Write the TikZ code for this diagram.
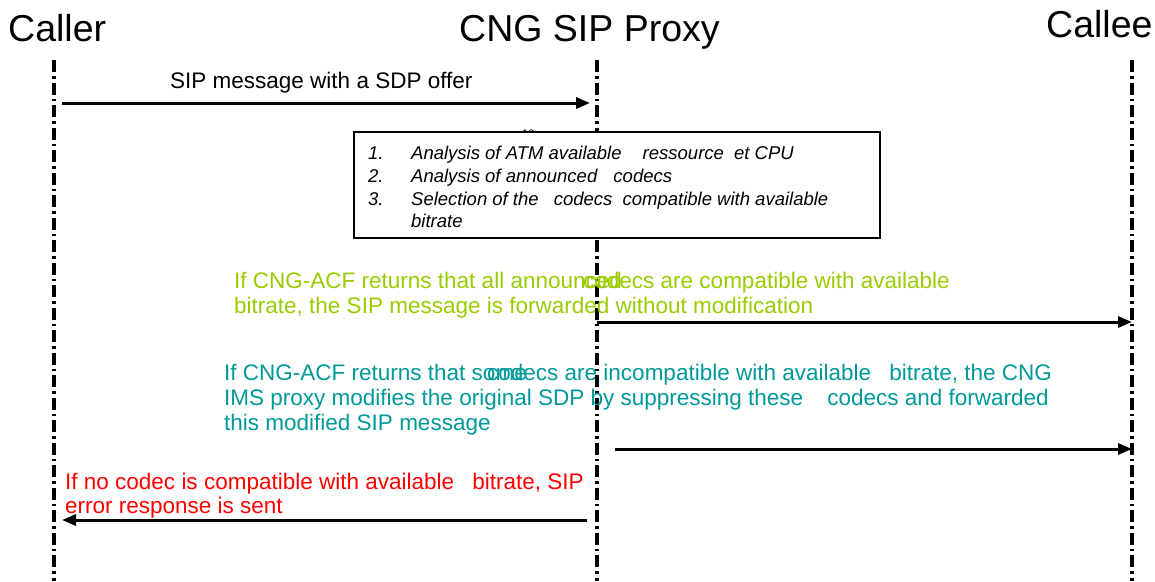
\documentclass[tikz,border=0pt]{standalone}
\usepackage{fontspec}
\setmainfont{Liberation Sans}
\usetikzlibrary{arrows.meta}
\definecolor{grn}{RGB}{153,204,0}
\definecolor{tealc}{RGB}{0,153,153}
\definecolor{redc}{RGB}{255,0,0}
\begin{document}
\begin{tikzpicture}[x=1pt,y=-1pt,
  title/.style={font=\fontsize{37.5}{40}\selectfont, anchor=base west, inner sep=0pt},
  life/.style={line width=3.2pt, dash pattern=on 12pt off 4pt on 2.5pt off 4pt},
  msg/.style={line width=3pt, -{Triangle[length=14pt,width=11pt]}},
  lbl/.style={font=\fontsize{22.5}{25}\selectfont, anchor=base west, inner sep=0pt},
  item/.style={font=\fontsize{18.5}{22}\selectfont\itshape, anchor=base west, inner sep=0pt},
  notebox/.style={draw, fill=white, line width=1.5pt, anchor=north west, minimum width=526pt, minimum height=106pt, inner sep=0pt}]
\useasboundingbox (0,0) rectangle (1155,581);

% titles
\node[title] (caller) at (8,41) {Caller};
\node[title] (proxy) at (459,41) {CNG SIP Proxy};
\node[title] (callee) at (1046,37) {Callee};

% lifelines
\coordinate (callerTop) at (54,60);
\coordinate (callerBot) at (54,581);
\coordinate (proxyTop) at (597,60);
\coordinate (proxyBot) at (597,581);
\coordinate (calleeTop) at (1132,60);
\coordinate (calleeBot) at (1132,581);
\draw[life] (callerTop) -- (callerBot);
\draw[life] (proxyTop) -- (proxyBot);
\draw[life] (calleeTop) -- (calleeBot);

% message 1
\node[lbl] (m1) at (170,88) {SIP message with a SDP offer};
\coordinate (c1) at (54,103);
\coordinate (p1) at (597,103);
\draw[msg, shorten <=8pt, shorten >=7pt] (c1) -- (p1);

% hidden small text and analysis box
\node[font=\fontsize{11}{12}\selectfont, anchor=base west, inner sep=0pt] (ten) at (522,137) {10};
\node[notebox] (box) at (353,131) {};
\node[item] (n1) at (368,159) {1.};
\node[item] (t1) at (411,159) {Analysis of ATM available\hspace{16pt} ressource\hspace{5pt} et CPU};
\node[item] (n2) at (368,182) {2.};
\node[item] (t2) at (411,182) {Analysis of announced\hspace{11pt} codecs};
\node[item] (n3) at (368,205) {3.};
\node[item] (t3) at (411,205) {Selection of the\hspace{10pt} codecs\hspace{5pt} compatible with available};
\node[item] (t4) at (411,227) {bitrate};

% green case
\node[lbl, text=grn] (g1) at (234,288) {If CNG-ACF returns that all announced};
\node[lbl, text=grn] (g1b) at (583,288) {codecs are compatible with available};
\node[lbl, text=grn] (g2) at (234,313) {bitrate, the SIP message is forwarded without modification};
\coordinate (p2) at (597,322);
\coordinate (e2) at (1132,322);
\draw[msg] (p2) -- (e2);

% teal case
\node[lbl, text=tealc] (b1) at (224,380) {If CNG-ACF returns that some};
\node[lbl, text=tealc] (b1b) at (487,380) {codecs are incompatible with available\hspace{12pt} bitrate, the CNG};
\node[lbl, text=tealc] (b2) at (224,405) {IMS proxy modifies the original SDP by suppressing these\hspace{18pt} codecs and forwarded};
\node[lbl, text=tealc] (b3) at (224,430) {this modified SIP message};
\coordinate (s3) at (615,449);
\coordinate (e3) at (1132,449);
\draw[msg] (s3) -- (e3);

% red case
\node[lbl, text=redc] (r1) at (65,489) {If no codec is compatible with available\hspace{12pt} bitrate, SIP};
\node[lbl, text=redc] (r2) at (65,513) {error response is sent};
\coordinate (p4) at (597,520);
\coordinate (c4) at (54,520);
\draw[msg, shorten <=10pt, shorten >=8pt] (p4) -- (c4);
\end{tikzpicture}
\end{document}
